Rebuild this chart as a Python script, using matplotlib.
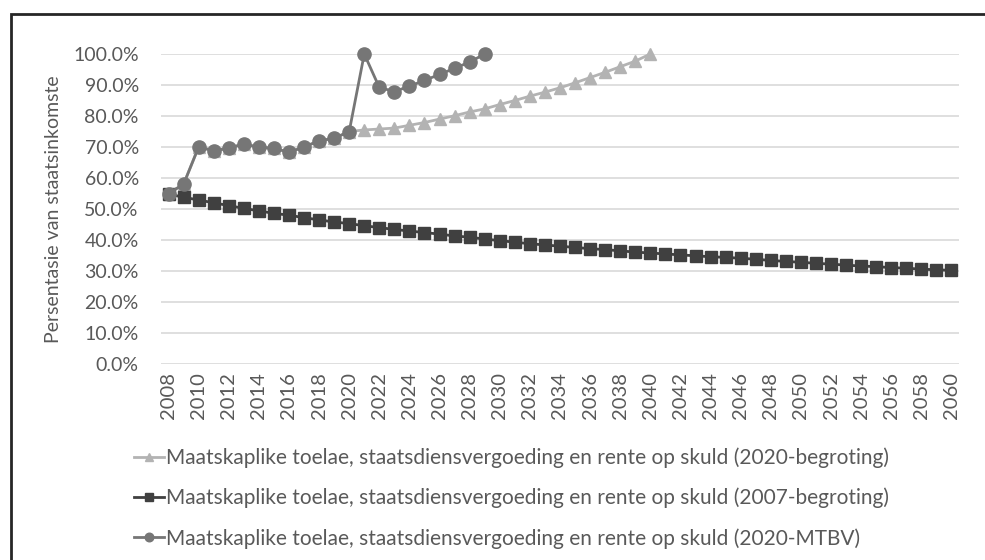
import numpy as np
import matplotlib
matplotlib.use("Agg")
import matplotlib.pyplot as plt
from matplotlib.patches import Rectangle
from matplotlib.ticker import PercentFormatter

plt.rcParams["font.family"] = ["Lato", "DejaVu Sans"]

years = list(range(2008, 2061))

# 2020-begroting (triangles), 2008-2040
begroting_2020 = [55.0, 58.0, 70.0, 68.8, 69.6, 71.0, 69.9, 69.6, 68.3, 70.0, 72.0, 72.8, 75.0,
                  75.5, 75.8, 76.1, 77.0, 77.9, 79.0, 80.1, 81.3, 82.3, 83.7, 85.0, 86.4,
                  87.7, 89.1, 90.7, 92.4, 94.1, 95.9, 97.7, 100.0]

# 2007-begroting (squares), 2008-2060
begroting_2007 = [54.8, 53.8, 52.9, 52.0, 51.1, 50.2, 49.4, 48.6, 48.0, 47.2, 46.5, 45.8, 45.3,
                  44.6, 44.0, 43.4, 42.9, 42.4, 41.9, 41.3, 40.9, 40.3, 39.8, 39.3, 38.8,
                  38.4, 38.0, 37.6, 37.2, 36.9, 36.5, 36.1, 35.8, 35.5, 35.2, 34.9, 34.6,
                  34.4, 34.1, 33.8, 33.4, 33.1, 32.8, 32.5, 32.2, 31.9, 31.6, 31.4, 31.1,
                  30.9, 30.6, 30.4, 30.2]

# 2020-MTBV (circles), 2008-2029
mtbv_2020 = [55.0, 58.0, 70.0, 68.8, 69.6, 71.0, 69.9, 69.6, 68.3, 70.0, 72.0, 72.8, 75.0,
             100.0, 89.2, 87.9, 89.6, 91.5, 93.4, 95.4, 97.4, 100.0]

labels = [
    "Maatskaplike toelae, staatsdiensvergoeding en rente op skuld (2020-begroting)",
    "Maatskaplike toelae, staatsdiensvergoeding en rente op skuld (2007-begroting)",
    "Maatskaplike toelae, staatsdiensvergoeding en rente op skuld (2020-MTBV)",
]

W, H = 985, 560
fig = plt.figure(figsize=(W / 100, H / 100), dpi=100)
ax = fig.add_axes([161 / W, 1 - 364 / H, (959 - 161) / W, (364 - 54) / H])

x = np.arange(len(years))
ax.plot(x[:len(begroting_2020)], begroting_2020, color="#b3b3b3", lw=2.0,
        marker="^", ms=9, label=labels[0], zorder=3, clip_on=False)
ax.plot(x[:len(begroting_2007)], begroting_2007, color="#404040", lw=2.0,
        marker="s", ms=8, label=labels[1], zorder=4, clip_on=False)
ax.plot(x[:len(mtbv_2020)], mtbv_2020, color="#767676", lw=2.0,
        marker="o", ms=9.5, label=labels[2], zorder=5, clip_on=False)

ax.set_xlim(-0.5, len(years) - 0.5)
ax.set_ylim(0, 100)
ax.set_yticks(np.arange(0, 101, 10))
ax.yaxis.set_major_formatter(PercentFormatter(decimals=1))
ax.set_xticks(x[::2])
ax.set_xticklabels([str(y) for y in years[::2]], rotation=90)
ax.grid(axis="y", color="#d9d9d9", lw=1.2)
ax.set_axisbelow(True)
for s in ax.spines.values():
    s.set_visible(False)
ax.tick_params(length=0, colors="#595959", labelsize=14)
ax.tick_params(axis="y", pad=16)
ax.tick_params(axis="x", pad=6, labelsize=14.5)
ax.set_ylabel("Persentasie van staatsinkomste", fontsize=14, color="#595959", labelpad=8)

fig.legend(loc="upper left", bbox_to_anchor=(126 / W, 1 - 439 / H), frameon=False,
           fontsize=15, labelcolor="#595959", handlelength=1.4, handletextpad=0.1,
           labelspacing=0.95, borderaxespad=0, markerscale=0.65)

fig.patches.append(Rectangle((11 / W, -0.05), 1.2, 1 - 14 / H + 0.05, transform=fig.transFigure,
                             fill=False, ec="#262626", lw=2))

fig.savefig("out.png", dpi=100)
